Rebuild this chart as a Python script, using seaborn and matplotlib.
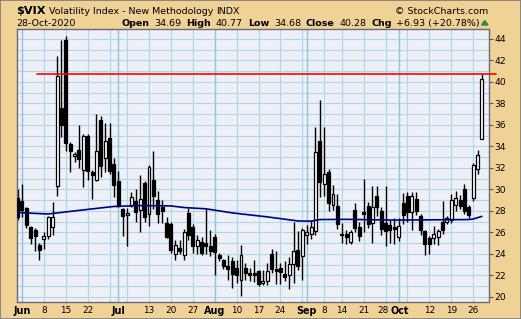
import numpy as np
import pandas as pd
import matplotlib
matplotlib.use("Agg")
import matplotlib.pyplot as plt
import matplotlib.transforms as mtrans
from matplotlib.patches import Polygon
import seaborn as sns

# ---------------- data ----------------
holidays = ["2020-07-03", "2020-09-07"]
dates = [d for d in pd.bdate_range("2020-05-29", "2020-10-28")
         if d.strftime("%Y-%m-%d") not in holidays]

opens = [29.2, 28.9, 28.3, 26.5, 26.2, 24.8, 25.4, 25.7, 26.5, 30.3,
         37.6, 43.9, 34.2, 33.1, 33.7, 31.8, 35.0, 31.6, 30.9, 36.5,
         32.9, 34.8, 32.4, 30.8, 28.2, 27.6, 28.6, 28.9, 28.1, 30.6,
         27.7, 30.9, 29.0, 28.4, 26.9, 26.8, 24.0, 24.6, 23.9, 27.8,
         26.5, 24.7, 25.1, 25.0, 24.7, 25.6, 23.9, 23.4, 22.9, 23.3,
         22.7, 21.6, 22.7, 22.2, 22.2, 22.4, 21.3, 21.5, 24.0, 22.6,
         22.7, 22.1, 22.0, 23.1, 24.4, 23.8, 25.8, 25.9, 26.1, 34.5,
         30.5, 31.6, 28.6, 28.5, 25.9, 25.9, 25.1, 28.1, 26.5, 27.9,
         28.5, 26.9, 29.4, 28.0, 26.9, 26.7, 26.5, 25.6, 28.7, 29.4,
         27.9, 29.1, 27.5, 26.1, 25.5, 25.5, 25.6, 27.0, 27.0, 27.2,
         28.6, 29.0, 30.0, 28.4, 29.2, 31.9, 34.69]
highs = [30.0, 30.5, 28.4, 26.6, 26.4, 25.0, 26.0, 27.5, 28.8, 42.4,
         43.9, 44.3, 34.4, 33.5, 36.0, 35.2, 35.2, 31.8, 37.0, 36.8,
         36.2, 36.2, 32.9, 31.7, 28.3, 28.3, 29.8, 30.0, 31.3, 30.8,
         32.3, 33.6, 29.9, 29.0, 27.4, 27.0, 25.3, 25.3, 26.3, 28.3,
         26.8, 25.8, 25.6, 28.2, 26.2, 25.9, 24.1, 23.5, 23.9, 23.7,
         23.4, 24.8, 23.2, 22.7, 23.4, 22.5, 22.5, 23.2, 24.5, 24.3,
         23.2, 23.3, 23.7, 27.0, 26.1, 26.4, 26.7, 27.2, 35.8, 38.3,
         35.8, 31.9, 30.4, 29.6, 26.9, 26.2, 26.2, 28.7, 27.0, 31.0,
         28.8, 30.3, 30.3, 28.4, 30.3, 27.2, 27.3, 27.3, 29.7, 29.8,
         29.8, 29.8, 27.7, 26.2, 25.7, 26.6, 26.3, 28.9, 27.5, 29.6,
         29.9, 29.5, 30.5, 28.6, 32.5, 33.7, 40.77]
lows = [27.2, 27.4, 26.4, 24.9, 24.3, 23.4, 24.5, 25.4, 25.8, 29.4,
        34.9, 33.6, 31.6, 32.6, 32.0, 30.2, 30.9, 29.1, 30.8, 31.2,
        31.6, 31.4, 29.3, 28.4, 25.7, 24.7, 28.4, 27.0, 26.0, 27.0,
        26.6, 28.2, 26.9, 26.9, 25.5, 24.1, 23.4, 24.0, 23.4, 25.3,
        24.1, 24.0, 23.9, 24.0, 23.8, 22.0, 23.3, 22.6, 21.6, 20.8,
        21.3, 20.1, 21.6, 21.5, 21.4, 21.0, 21.1, 21.1, 22.2, 21.2,
        21.2, 21.5, 20.7, 21.3, 22.5, 21.6, 24.9, 25.4, 25.8, 29.3,
        29.4, 28.0, 28.1, 26.3, 25.0, 24.9, 24.9, 26.0, 25.2, 26.0,
        26.4, 25.0, 27.5, 25.8, 24.7, 25.0, 24.9, 25.2, 26.8, 27.0,
        26.2, 27.6, 25.8, 23.9, 24.0, 24.9, 24.8, 25.9, 26.8, 26.9,
        28.0, 28.2, 27.7, 27.3, 28.9, 31.4, 34.68]
closes = [27.4, 28.1, 26.7, 25.5, 25.7, 24.4, 25.7, 27.4, 27.4, 40.6,
          36.0, 34.3, 33.6, 33.3, 32.8, 35.0, 31.7, 31.3, 33.6, 32.2,
          34.5, 31.7, 30.4, 28.5, 27.5, 27.8, 29.3, 27.9, 29.1, 27.4,
          32.1, 29.4, 27.7, 28.0, 25.6, 24.4, 24.8, 24.3, 26.0, 25.8,
          24.7, 25.3, 24.1, 24.7, 24.3, 24.2, 23.6, 22.9, 22.6, 22.1,
          22.0, 23.9, 22.2, 22.0, 22.0, 21.2, 21.5, 22.4, 22.6, 22.4,
          22.3, 21.9, 23.1, 24.3, 22.9, 26.2, 26.0, 26.5, 33.5, 30.7,
          31.4, 28.7, 29.6, 26.8, 25.8, 25.6, 26.0, 26.4, 25.7, 27.7,
          26.8, 28.4, 28.4, 26.3, 26.1, 26.2, 26.3, 26.6, 27.6, 27.9,
          29.4, 28.0, 26.2, 24.9, 24.9, 25.9, 26.1, 26.2, 27.3, 29.0,
          29.2, 28.5, 28.0, 27.6, 32.3, 33.2, 40.28]

ma_dates = ["2020-05-29", "2020-06-09", "2020-06-19", "2020-06-30", "2020-07-09",
            "2020-07-20", "2020-07-23", "2020-07-30", "2020-08-07", "2020-08-19",
            "2020-08-28", "2020-09-02", "2020-09-04", "2020-09-15", "2020-09-30",
            "2020-10-23", "2020-10-26", "2020-10-28"]
ma_values = [27.85, 27.72, 28.1, 28.42, 28.5, 28.47, 28.32, 28.2, 27.82, 27.45,
             27.07, 27.05, 27.2, 27.22, 27.15, 27.2, 27.25, 27.5]

tick_dates = ["2020-06-01", "2020-06-08", "2020-06-15", "2020-06-22", "2020-07-01",
              "2020-07-13", "2020-07-20", "2020-07-27", "2020-08-03", "2020-08-10",
              "2020-08-17", "2020-08-24", "2020-09-01", "2020-09-08", "2020-09-14",
              "2020-09-21", "2020-09-28", "2020-10-01", "2020-10-12", "2020-10-19",
              "2020-10-26"]
tick_labels = ["Jun", "8", "15", "22", "Jul", "13", "20", "27", "Aug", "10", "17", "24",
               "Sep", "8", "14", "21", "28", "Oct", "12", "19", "26"]
extra_grid_dates = ["2020-06-29", "2020-07-06", "2020-08-31", "2020-10-05"]
month_starts = ["2020-06-01", "2020-07-01", "2020-08-03", "2020-09-01", "2020-10-01"]

level_line = 40.77
level_start = "2020-06-04"

header_pieces = [("Open", True), ("34.69", False), ("High", True), ("40.77", False),
                 ("Low", True), ("34.68", False), ("Close", True), ("40.28", False),
                 ("Chg", True), ("+6.93 (+20.78%)", False)]

# ---------------- style ----------------
TAN = "#F0D296"
PLOT_BG = "#EEEFF7"
GRID = "#A9DAE6"
GRID_M = "#8CC6D8"
NAVY = "#000080"

sns.set_theme(style="white")
plt.rcParams["font.family"] = ["DejaVu Sans"]

W, H = 521, 319
fig = plt.figure(figsize=(W / 100, H / 100), dpi=100, facecolor=TAN)
L, R, T, B = 16.5, 488.5, 29.0, 302.0
ax = fig.add_axes([L / W, 1 - B / H, (R - L) / W, (B - T) / H])
ax.set_facecolor(PLOT_BG)

pos = {d.strftime("%Y-%m-%d"): i for i, d in enumerate(dates)}
x = np.arange(len(dates))

# grid
for v in range(20, 45):
    ax.axhline(v, color=GRID, lw=0.8, zorder=0)
for d in tick_dates + extra_grid_dates:
    c = GRID_M if d in month_starts else GRID
    ax.axvline(pos[d], color=c, lw=1.0 if d in month_starts else 0.8, zorder=0)

# candles
o = np.array(opens); h = np.array(highs); l = np.array(lows); c = np.array(closes)
ax.vlines(x, l, h, color="black", lw=1.0, zorder=2)
up = c >= o
body_lo = np.minimum(o, c)
body_h = np.maximum(np.abs(c - o), 0.08)
ax.bar(x[up], body_h[up], bottom=body_lo[up], width=0.68, color="white",
       edgecolor="black", lw=0.9, zorder=3)
ax.bar(x[~up], body_h[~up], bottom=body_lo[~up], width=0.68, color="black",
       edgecolor="black", lw=0.9, zorder=3)

# moving average
ma_x = [pos[d] for d in ma_dates]
sns.lineplot(x=ma_x, y=ma_values, ax=ax, color=NAVY, lw=1.2, zorder=4)

# level line
ax.plot([pos[level_start] + 0.4, len(dates) + 2.1], [level_line, level_line],
        color="red", lw=1.2, zorder=5, clip_on=False)

ax.set_xlim(-0.25, 107.5)
ax.set_ylim(19.53, 44.93)

# axes
ax.yaxis.tick_right()
ax.set_yticks(range(20, 45, 2))
ax.set_yticklabels([str(v) for v in range(20, 45, 2)])
ax.tick_params(axis="y", right=True, length=3, width=0.8, color="#555555",
               labelsize=6.6, pad=1, labelcolor="black")
ax.set_xticks([pos[d] for d in tick_dates])
ax.set_xticklabels(tick_labels)
ax.tick_params(axis="x", bottom=True, length=0, labelsize=6.4, pad=3.0,
               labelcolor="black")
for lab, d in zip(ax.get_xticklabels(), tick_dates):
    if lab.get_text().isalpha():
        lab.set_fontweight("bold")
        lab.set_fontsize(6.9)
    if d == "2020-09-28":
        lab.set_transform(lab.get_transform() +
                          mtrans.ScaledTranslation(-2.5 / 100, 0, fig.dpi_scale_trans))
    if d == "2020-10-01":
        lab.set_transform(lab.get_transform() +
                          mtrans.ScaledTranslation(1.0 / 100, 0, fig.dpi_scale_trans))
for s in ax.spines.values():
    s.set_color("#6A6A7A")
    s.set_linewidth(1.0)
ax.set_xlabel(""); ax.set_ylabel("")

# header texts
def ft(xp, yp, s, **kw):
    return fig.text(xp / W, 1 - yp / H, s, va="baseline", color="black", **kw)

ft(16.5, 14.4, "$VIX", fontsize=8.2, fontweight="bold")
ft(49, 13.5, "Volatility Index - New Methodology", fontsize=6.8)
ft(216.5, 13.5, "INDX", fontsize=6.8)
ft(488.5, 13.5, "\u00a9 StockCharts.com", fontsize=6.8, ha="right")
ft(16, 26.3, "28-Oct-2020", fontsize=6.8)

renderer = fig.canvas.get_renderer()
xcur = 121.7
for s, b in header_pieces:
    t = ft(xcur, 26.3, s, fontsize=6.8, fontweight="bold" if b else "normal")
    xcur += t.get_window_extent(renderer).width + 4.8

tri = Polygon([[481.5 / W, 1 - 25 / H], [488 / W, 1 - 25 / H], [484.75 / W, 1 - 20.5 / H]],
              closed=True, transform=fig.transFigure, color="#2E8B3A")
fig.patches.append(tri)

# outer border
fig.patches.append(plt.Rectangle((0, 0), 1, 1, transform=fig.transFigure, fill=False,
                                 edgecolor="#7A7A7A", lw=1.2))

fig.savefig("out.png", dpi=100, facecolor=TAN)
